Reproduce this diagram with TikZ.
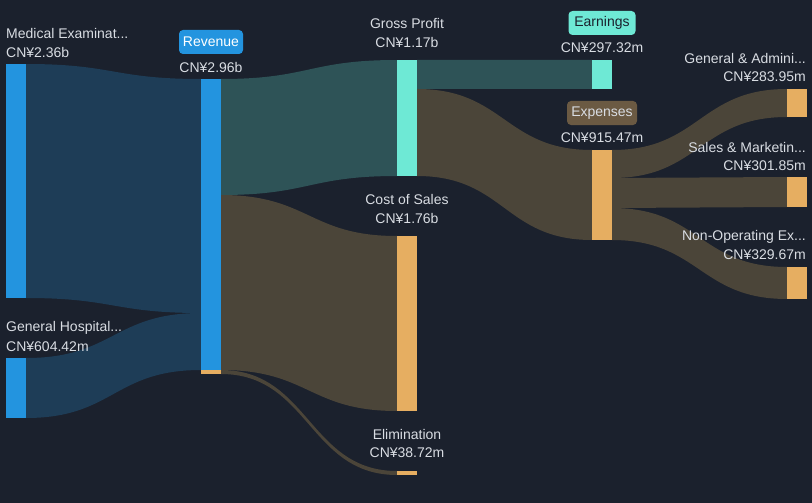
\documentclass[tikz,border=0pt]{standalone}
\usepackage{fontspec}
\setmainfont{Liberation Sans}
\definecolor{bg}{HTML}{1B212D}
\definecolor{nblue}{HTML}{2394DF}
\definecolor{fblue}{HTML}{1E3D57}
\definecolor{fteal}{HTML}{2E5357}
\definecolor{fbrown}{HTML}{4B4539}
\definecolor{nmint}{HTML}{6EE9D5}
\definecolor{norange}{HTML}{E6AE61}
\definecolor{expbox}{HTML}{6B5A43}
\definecolor{txt}{HTML}{D9DDE3}
\newcommand{\flowband}[7]{\fill[#1] (#2,#3) .. controls ({(#2+#5)/2},#3) and ({(#2+#5)/2},#6) .. (#5,#6) -- (#5,#7) .. controls ({(#2+#5)/2},#7) and ({(#2+#5)/2},#4) .. (#2,#4) -- cycle;}
\newcommand{\sbar}[6]{\node[sankeybar, fill=#2, minimum width={#5-#3}, minimum height={#6-#4}] (#1) at ({(#3+#5)/2},{(#4+#6)/2}) {};}
\tikzset{
  sankeybar/.style={rectangle, draw=none, inner sep=0pt, outer sep=0pt},
  lbl/.style={text=txt, font=\fontsize{14}{16}\selectfont, inner sep=0pt},
  tag/.style={rounded corners=4pt, font=\fontsize{14}{16}\selectfont, inner sep=0pt, minimum height=24pt},
}
\begin{document}
\begin{tikzpicture}[x=1pt,y=-1pt]
\fill[bg] (0,0) rectangle (812,503);
\useasboundingbox (0,0) rectangle (812,503);
% flows
\flowband{fblue}{26}{64}{298}{201}{79}{313}
\flowband{fblue}{26}{358}{418}{201}{313}{370}
\flowband{fteal}{221}{79}{195}{397}{60}{176}
\flowband{fbrown}{221}{195}{370}{397}{236}{411}
\flowband{fbrown}{221}{370}{374}{397}{471}{475}
\flowband{fteal}{417}{60}{89}{592}{60}{89}
\flowband{fbrown}{417}{89}{176}{592}{150}{240}
\flowband{fbrown}{612}{150}{178}{787}{89}{117}
\flowband{fbrown}{612}{178}{208}{787}{177}{207}
\flowband{fbrown}{612}{208}{240}{787}{267}{299}
% bars
\sbar{med}{nblue}{6}{64}{26}{298}
\sbar{gen}{nblue}{6}{358}{26}{418}
\sbar{rev}{nblue}{201}{79}{221}{370}
\sbar{revel}{norange}{201}{370}{221}{374}
\sbar{gp}{nmint}{397}{60}{417}{176}
\sbar{cos}{norange}{397}{236}{417}{411}
\sbar{elim}{norange}{397}{471}{417}{475}
\sbar{earn}{nmint}{592}{60}{612}{89}
\sbar{exp}{norange}{592}{150}{612}{240}
\sbar{ga}{norange}{787}{89}{807}{117}
\sbar{sm}{norange}{787}{177}{807}{207}
\sbar{no}{norange}{787}{267}{807}{299}
% labels
\node[lbl, anchor=west] (medt) at (6,33) {Medical Examinat...};
\node[lbl, anchor=west] (medv) at (6,52) {CN¥2.36b};
\node[lbl, anchor=west] (gent) at (6,328) {General Hospital...};
\node[lbl, anchor=west] (genv) at (6,347) {CN¥604.42m};
\node[tag, fill=nblue, text=white, minimum width=64pt] (revt) at (211,42) {Revenue};
\node[lbl] (revv) at (211,67) {CN¥2.96b};
\node[lbl] (gpt) at (407,23) {Gross Profit};
\node[lbl] (gpv) at (407,42) {CN¥1.17b};
\node[lbl] (cost) at (407,199) {Cost of Sales};
\node[lbl] (cosv) at (407,218) {CN¥1.76b};
\node[lbl] (elimt) at (407,434) {Elimination};
\node[lbl] (elimv) at (407,453) {CN¥38.72m};
\node[tag, fill=nmint, text=bg, minimum width=67pt] (earnt) at (602,23) {Earnings};
\node[lbl] (earnv) at (602,48) {CN¥297.32m};
\node[tag, fill=expbox, text=txt, minimum width=70pt] (expt) at (602,113) {Expenses};
\node[lbl] (expv) at (602,138) {CN¥915.47m};
\node[lbl, anchor=east] (gat) at (806,58) {General \& Admini...};
\node[lbl, anchor=east] (gav) at (806,77) {CN¥283.95m};
\node[lbl, anchor=east] (smt) at (806,147) {Sales \& Marketin...};
\node[lbl, anchor=east] (smv) at (806,166) {CN¥301.85m};
\node[lbl, anchor=east] (not) at (806,237) {Non-Operating Ex...};
\node[lbl, anchor=east] (nov) at (806,255) {CN¥329.67m};
\end{tikzpicture}
\end{document}
